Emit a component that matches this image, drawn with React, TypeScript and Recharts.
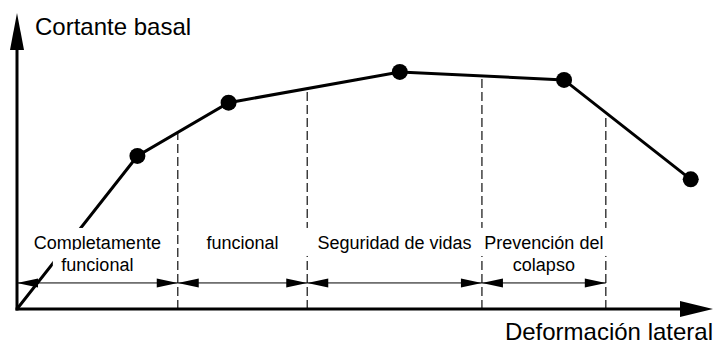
import { LineChart, Line, XAxis, YAxis, ReferenceLine } from 'recharts'

// curva de capacidad (unidades relativas, 0-100)
const deformacion = [0, 17.3, 30.4, 55.0, 78.6, 96.8]
const cortante = [0, 51.7, 69.7, 80.1, 77.4, 43.8]

// limites de los niveles de desempeño sobre el eje de deformación
const limites = [0, 23.1, 41.7, 66.8, 84.6]
const niveles = [['Completamente', 'funcional'], ['funcional'], ['Seguridad de vidas'], ['Prevención del', 'colapso']]
const cotaY = 8.8

const tituloY = 'Cortante basal'
const tituloX = 'Deformación lateral'

const FONT = '"Liberation Sans", Arial, sans-serif'

const data = deformacion.map((x, i) => ({ x, y: cortante[i] }))

// valor de la curva en x (para cortar las líneas punteadas)
const curvaEn = (x: number) => {
  for (let i = 1; i < deformacion.length; i++) {
    if (x <= deformacion[i]) {
      const t = (x - deformacion[i - 1]) / (deformacion[i] - deformacion[i - 1])
      return cortante[i - 1] + t * (cortante[i] - cortante[i - 1])
    }
  }
  return cortante[cortante.length - 1]
}

const flecha = (tx: number, ty: number, dx: number, dy: number, len: number, half: number) => {
  const bx = tx - dx * len
  const by = ty - dy * len
  const px = -dy * half
  const py = dx * half
  return `${tx},${ty} ${bx + px},${by + py} ${bx - px},${by - py}`
}

const ejeY = (p: any) => (
  <g>
    <line x1={p.x1} y1={p.y1 + 1.5} x2={p.x2} y2={p.y2 + 30} stroke="#000" strokeWidth={3} />
    <polygon points={flecha(p.x2, p.y2, 0, -1, 37, 7)} fill="#000" />
    <text x={p.x2 + 18} y={p.y2 + 22} fontSize={24} fontFamily={FONT} fill="#000">{tituloY}</text>
  </g>
)

const ejeX = (p: any) => (
  <g>
    <line x1={p.x1 - 1.5} y1={p.y1} x2={p.x2 - 30} y2={p.y2} stroke="#000" strokeWidth={3} />
    <polygon points={flecha(p.x2, p.y2, 1, 0, 33, 8)} fill="#000" />
    <text x={p.x2} y={p.y1 + 31} fontSize={24} fontFamily={FONT} fill="#000" textAnchor="end">{tituloX}</text>
  </g>
)

const cota = (lineas: string[]) => (p: any) => {
  const cx = (p.x1 + p.x2) / 2
  return (
    <g>
      <line x1={p.x1} y1={p.y1} x2={p.x2} y2={p.y2} stroke="#000" strokeWidth={1} />
      <polygon points={flecha(p.x1, p.y1, -1, 0, 21, 4.5)} fill="#000" />
      <polygon points={flecha(p.x2, p.y2, 1, 0, 21, 4.5)} fill="#000" />
      {lineas.map((t, i) => {
        const base = p.y1 - 34 + i * 22
        const w = t.length * 9.9
        return (
          <g key={t}>
            <rect x={cx - w / 2} y={base - 21} width={w} height={28} fill="#fff" />
            <text x={cx} y={base} fontSize={18} fontFamily={FONT} fill="#000" textAnchor="middle">{t}</text>
          </g>
        )
      })}
    </g>
  )
}

const punto = (p: any) =>
  p.index === 0 ? <g key={`d-${p.index}`} /> : <circle key={`d-${p.index}`} cx={p.cx} cy={p.cy} r={8} fill="#000" />

export default function App() {
  return (
    <div style={{ position: 'absolute', left: 0, top: 0, background: '#fff' }}>
      <LineChart width={714} height={345} data={data} margin={{ top: 13, right: 1, bottom: 36, left: 17 }}>
        <XAxis type="number" dataKey="x" domain={[0, 100]} hide />
        <YAxis type="number" domain={[0, 100]} hide />
        {limites.slice(1).map((b) => (
          <ReferenceLine
            key={`lim-${b}`}
            segment={[{ x: b, y: 0 }, { x: b, y: curvaEn(b) }]}
            stroke="#222"
            strokeWidth={1.3}
            strokeDasharray="9 4"
          />
        ))}
        <Line
          type="linear"
          dataKey="y"
          stroke="#000"
          strokeWidth={3}
          dot={punto}
          activeDot={false}
          isAnimationActive={false}
        />
        {niveles.map((lineas, i) => (
          <ReferenceLine
            key={`cota-${i}`}
            segment={[{ x: limites[i], y: cotaY }, { x: limites[i + 1], y: cotaY }]}
            shape={cota(lineas)}
          />
        ))}
        <ReferenceLine segment={[{ x: 0, y: 0 }, { x: 0, y: 100 }]} shape={ejeY} />
        <ReferenceLine segment={[{ x: 0, y: 0 }, { x: 100, y: 0 }]} shape={ejeX} />
      </LineChart>
    </div>
  )
}
